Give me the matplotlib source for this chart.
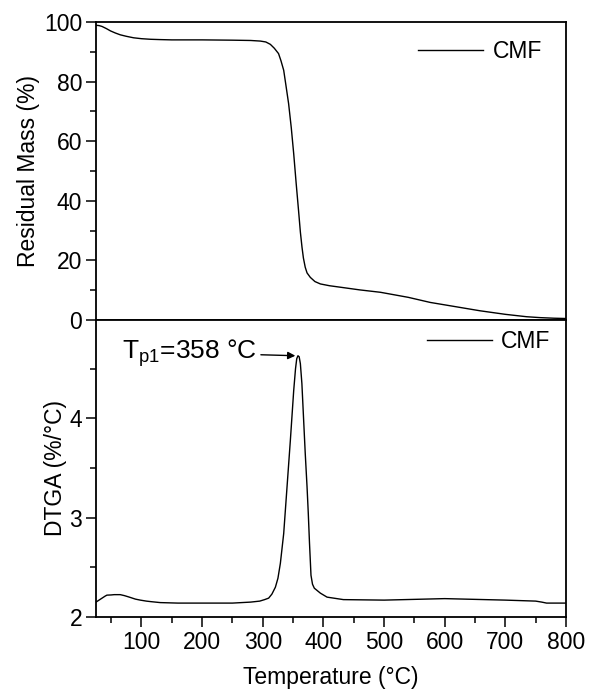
import matplotlib
matplotlib.use("Agg")
import matplotlib.pyplot as plt
from matplotlib.ticker import MultipleLocator
import numpy as np

plt.rcParams['font.family'] = ['Liberation Sans', 'DejaVu Sans']
plt.rcParams['mathtext.fontset'] = 'custom'
plt.rcParams['mathtext.rm'] = 'Liberation Sans'

# TGA curve (temperature °C, residual mass %)
tga_temp = [25, 30, 35, 42, 49, 57, 65, 75, 87, 100, 115, 130, 150, 200, 250, 280, 296, 305,
            312.5, 319, 326, 330, 334.5, 338, 342.6, 347, 351, 355, 359, 362, 364.7, 367,
            370, 373, 378.4, 386, 395, 410, 428, 460, 494, 540, 576, 620, 658, 700, 735,
            757, 780, 800]
tga_mass = [98.9, 98.8, 98.5, 97.8, 97.0, 96.3, 95.7, 95.2, 94.7, 94.4, 94.2, 94.1, 94.0,
            94.0, 93.9, 93.8, 93.6, 93.3, 92.5, 91.2, 89.4, 87.0, 83.8, 79.0, 72.6, 64.5,
            55.8, 46.0, 36.7, 29.5, 24.4, 20.8, 17.7, 15.8, 14.3, 12.9, 12.1, 11.5, 11.0,
            10.1, 9.3, 7.6, 5.9, 4.4, 3.1, 1.9, 1.1, 0.8, 0.6, 0.5]

# DTGA curve (temperature °C, %/°C)
dtg_temp = [25, 30, 35, 40, 43, 50, 55, 65, 72, 80, 90, 98, 108, 115, 131, 160, 200, 250,
            280, 295, 303, 309.7, 315, 320.8, 325, 329, 334.5, 340, 345.5, 351, 354, 356,
            358, 360, 362, 364.5, 367.4, 370, 373, 375, 377, 379.5, 382, 385, 389, 395,
            406, 433, 500, 600, 700, 750, 760, 768, 780, 800]
dtg_val = [2.15, 2.17, 2.19, 2.21, 2.22, 2.222, 2.225, 2.225, 2.215, 2.20, 2.18, 2.17,
           2.16, 2.155, 2.145, 2.14, 2.14, 2.14, 2.15, 2.16, 2.175, 2.19, 2.23, 2.30, 2.39,
           2.54, 2.84, 3.31, 3.78, 4.28, 4.50, 4.60, 4.63, 4.62, 4.55, 4.35, 3.98, 3.65,
           3.31, 3.05, 2.75, 2.42, 2.33, 2.29, 2.27, 2.24, 2.20, 2.175, 2.17, 2.185, 2.17,
           2.16, 2.15, 2.14, 2.14, 2.14]

peak_temp = 358
peak_val = 4.63
series_name = "CMF"

fig = plt.figure(figsize=(5.90, 6.94), dpi=100)
left, right = 96 / 590, 566 / 590
ax1 = fig.add_axes([left, 1 - 320 / 694, right - left, (320 - 22) / 694])
ax2 = fig.add_axes([left, 1 - 617 / 694, right - left, (617 - 320) / 694], sharex=ax1)

fs = 16.5
for ax in (ax1, ax2):
    for s in ax.spines.values():
        s.set_linewidth(1.3)
    ax.tick_params(which='both', direction='out', right=False, top=False, width=1.1)
    ax.tick_params(which='major', length=7, labelsize=fs, pad=3)
    ax.tick_params(which='minor', length=4)

ax1.plot(tga_temp, tga_mass, color='black', lw=1.0, label=series_name)
ax1.set_xlim(25, 800)
ax1.set_ylim(0, 100)
ax1.yaxis.set_major_locator(MultipleLocator(20))
ax1.yaxis.set_minor_locator(MultipleLocator(10))
ax1.tick_params(axis='x', which='both', bottom=False, labelbottom=False)
ax1.set_ylabel("Residual Mass (%)", fontsize=fs, labelpad=3)
ax1.legend(loc='upper right', frameon=False, fontsize=fs, handlelength=2.85,
           handletextpad=0.4, borderaxespad=0.5, borderpad=0.3,
           bbox_to_anchor=(0.988, 1.0))

ax2.plot(dtg_temp, dtg_val, color='black', lw=1.0, label=series_name)
ax2.set_ylim(2, 4.99)
ax2.yaxis.set_major_locator(MultipleLocator(1))
ax2.yaxis.set_minor_locator(MultipleLocator(0.5))
ax2.xaxis.set_minor_locator(MultipleLocator(50))
ax2.set_xticks([100, 200, 300, 400, 500, 600, 700, 800])
ax2.set_ylabel("DTGA (%/°C)", fontsize=fs, labelpad=2)
ax2.set_xlabel("Temperature (°C)", fontsize=fs, labelpad=9)
ax2.legend(loc='upper right', frameon=False, fontsize=fs, handlelength=2.85,
           handletextpad=0.4, borderaxespad=0.15, borderpad=0.3,
           bbox_to_anchor=(0.989, 1.0))

ax2.annotate(r"T$_{\mathregular{p1}}$=358 °C", xy=(peak_temp - 2, peak_val),
             xytext=(290, peak_val + 0.03), fontsize=19, ha='right', va='center',
             arrowprops=dict(arrowstyle='-|>', color='black', lw=1.0, mutation_scale=11,
                             shrinkA=1, shrinkB=1))

fig.savefig("out.png", dpi=100)
